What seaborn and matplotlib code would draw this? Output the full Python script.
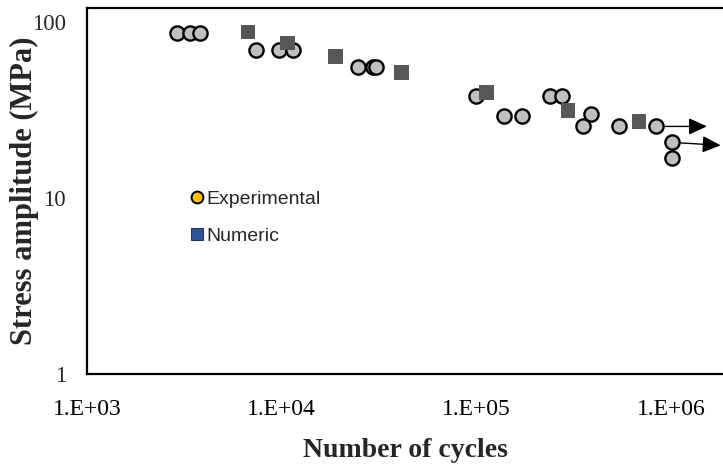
import numpy as np
import pandas as pd
import matplotlib
matplotlib.use("Agg")
import matplotlib.pyplot as plt
from matplotlib.lines import Line2D
from matplotlib.ticker import FixedLocator, FuncFormatter, LogLocator, NullLocator
import seaborn as sns

# Experimental data (cycles, stress amplitude MPa)
exp_cycles = [2900, 3380, 3800, 7360, 9660, 11400, 24800, 29300, 30700,
              100000, 139000, 172000, 239000, 276000, 354000, 389000,
              541000, 837000, 1010000, 1010000]
exp_stress = [86.7, 86.7, 86.7, 69.5, 69.5, 69.5, 55.7, 55.7, 55.7,
              38.2, 29.4, 29.4, 38.2, 38.2, 25.8, 29.9,
              25.5, 25.5, 20.7, 16.8]

# Numeric data
num_cycles = [6700, 10740, 18900, 41200, 112600, 296000, 686000]
num_stress = [87.9, 76.1, 63.4, 51.5, 39.7, 31.4, 27.2]

# Run-out arrows (start -> end)
arrow_start_x = [837000, 1010000]
arrow_start_y = [25.5, 20.7]
arrow_end_x = [1.53e6, 1.80e6]
arrow_end_y = [25.5, 19.9]

legend_labels = ["Experimental", "Numeric"]
x_ticks = [1e3, 1e4, 1e5, 1e6]
y_ticks = [1, 10, 100]

sns.set_style("white")
plt.rcParams["font.family"] = ["Liberation Serif", "DejaVu Serif"]

fig = plt.figure(figsize=(7.23, 4.68), dpi=100)
ax = fig.add_axes([87/723, 1 - 374/468, (723 - 87)/723, (374 - 8)/468])

df_exp = pd.DataFrame({"N": exp_cycles, "S": exp_stress})
df_num = pd.DataFrame({"N": num_cycles, "S": num_stress})

sns.scatterplot(data=df_exp, x="N", y="S", ax=ax, marker="o", s=105,
                color="#c0c0c0", edgecolor="black", linewidth=1.7, zorder=3)
sns.scatterplot(data=df_num, x="N", y="S", ax=ax, marker="s", s=110,
                color="#575757", edgecolor="none", linewidth=0, zorder=4)

for sx, sy, ex, ey in zip(arrow_start_x, arrow_start_y, arrow_end_x, arrow_end_y):
    ax.annotate("", xy=(ex, ey), xytext=(sx, sy),
                arrowprops=dict(arrowstyle="-|>,head_length=0.7,head_width=0.32",
                                color="black", lw=1.0, mutation_scale=16,
                                shrinkA=0, shrinkB=0), zorder=2)

ax.set_xscale("log")
ax.set_yscale("log")
ax.set_xlim(1e3, 1.85e6)
ax.set_ylim(1, 120)

ax.xaxis.set_major_locator(FixedLocator(x_ticks))
ax.xaxis.set_minor_locator(LogLocator(base=10, subs=np.arange(2, 10)))
ax.xaxis.set_major_formatter(FuncFormatter(lambda v, p: "1.E+%02d" % int(round(np.log10(v)))))
ax.yaxis.set_major_locator(FixedLocator(y_ticks))
ax.yaxis.set_minor_locator(NullLocator())
ax.yaxis.set_major_formatter(FuncFormatter(lambda v, p: "%d" % v))

ax.tick_params(axis="x", which="major", direction="in", length=7, width=1.3,
               labelsize=17, pad=18, colors="black")
ax.tick_params(axis="x", which="minor", direction="in", length=4, width=1.3)
ax.tick_params(axis="y", which="major", direction="in", length=7, width=1.3,
               labelsize=16.5, pad=15)

for side in ["left", "bottom", "top"]:
    ax.spines[side].set_visible(True)
    ax.spines[side].set_color("black")
    ax.spines[side].set_linewidth(1.6)
ax.spines["right"].set_visible(False)

ax.set_xlabel("Number of cycles", fontsize=20, fontweight="bold", labelpad=13)
ax.set_ylabel("Stress amplitude (MPa)", fontsize=22, fontweight="bold", labelpad=-5)

handles = [
    Line2D([], [], linestyle="none", marker="o", markersize=8.5,
           markerfacecolor="#FFC000", markeredgecolor="black", markeredgewidth=1.4),
    Line2D([], [], linestyle="none", marker="s", markersize=9,
           markerfacecolor="#2F5597", markeredgecolor="#1F3864", markeredgewidth=0.8),
]
leg = ax.legend(handles, legend_labels, loc="upper left",
                bbox_to_anchor=(0.136, 0.549), frameon=False,
                handlelength=0.6, handletextpad=0.2, labelspacing=1.0,
                prop={"family": ["Liberation Sans", "DejaVu Sans"], "size": 14})

fig.savefig("out.png", dpi=100)
